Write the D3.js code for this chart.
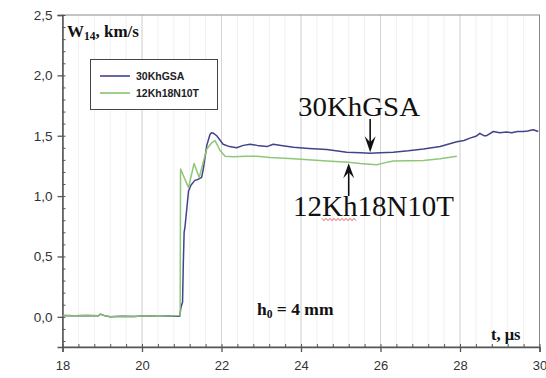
<!DOCTYPE html>
<html>
<head>
<meta charset="utf-8">
<script src="https://cdn.jsdelivr.net/npm/d3@7/dist/d3.min.js"></script>
<style>
  html, body { margin: 0; padding: 0; background: #fff; }
  svg { display: block; }
</style>
</head>
<body>
<svg id="chart" width="546" height="378"></svg>
<script>
// Free-surface velocity W14 vs. time for two steels, h0 = 4 mm
const tGSA = [18.0, 18.3, 18.6, 18.9, 18.96, 19.05, 19.2, 19.5, 19.8, 20.1, 20.4, 20.7, 20.95,
  20.98, 21.02, 21.04, 21.06, 21.08, 21.17, 21.23, 21.33, 21.42, 21.50, 21.54, 21.63, 21.71,
  21.75, 21.80, 21.88, 22.04, 22.2, 22.38, 22.55, 22.72, 22.9, 23.14, 23.3, 23.5, 23.81, 24.2,
  24.65, 25.15, 25.5, 25.74, 26.0, 26.32, 26.7, 27.08, 27.5, 27.92, 28.1, 28.25, 28.4, 28.5,
  28.6, 28.67, 28.84, 29.0, 29.17, 29.3, 29.45, 29.59, 29.7, 29.84, 29.97];
const vGSA = [0.01, 0.008, 0.01, 0.008, 0.022, 0.01, 0.0, 0.005, 0.002, 0.008, 0.005, 0.006, 0.005,
  0.08, 0.12, 0.45, 0.70, 0.74, 1.04, 1.09, 1.13, 1.14, 1.155, 1.22, 1.42, 1.51,
  1.525, 1.52, 1.50, 1.43, 1.41, 1.40, 1.42, 1.43, 1.42, 1.41, 1.43, 1.42, 1.405, 1.395,
  1.386, 1.364, 1.358, 1.355, 1.36, 1.364, 1.375, 1.39, 1.41, 1.45, 1.46, 1.48, 1.495, 1.52,
  1.50, 1.50, 1.535, 1.525, 1.53, 1.525, 1.535, 1.535, 1.54, 1.55, 1.535];

const tN10T = [18.0, 18.3, 18.6, 18.9, 18.96, 19.05, 19.2, 19.5, 19.8, 20.1, 20.4, 20.7, 20.96,
  20.97, 21.17, 21.31, 21.44, 21.63, 21.75, 21.84, 21.96, 22.09, 22.3, 22.6, 22.89, 23.22,
  23.81, 24.65, 25.2, 25.48, 25.9, 26.1, 26.32, 27.08, 27.5, 27.92];
const vN10T = [0.01, 0.008, 0.01, 0.008, 0.022, 0.01, 0.0, 0.005, 0.002, 0.008, 0.005, 0.006, 0.01,
  1.225, 1.07, 1.27, 1.155, 1.39, 1.44, 1.46, 1.38, 1.33, 1.325, 1.33, 1.33, 1.32,
  1.31, 1.29, 1.28, 1.27, 1.26, 1.275, 1.29, 1.295, 1.31, 1.33];

const xTicks = [18, 20, 22, 24, 26, 28, 30];
const yTicks = [0, 0.5, 1.0, 1.5, 2.0, 2.5];
const seriesNames = ["30KhGSA", "12Kh18N10T"];
const seriesColors = ["#43438c", "#88c472"];

const svg = d3.select("#chart");
const padL = 62.5, padR = 539.5, padT = 15, padB = 347;

const x = d3.scaleLinear().domain([18, 30]).range([padL, padR]);
const y = d3.scaleLinear().domain([-0.25, 2.5]).range([padB, padT]);

// vertical grid: faint minor lines every 0.4 µs, stronger at major ticks
const minorX = d3.range(18, 30.001, 0.4).map(v => +v.toFixed(2));
svg.append("g").selectAll("line").data(minorX).join("line")
  .attr("x1", d => x(d)).attr("x2", d => x(d))
  .attr("y1", padT).attr("y2", padB)
  .attr("stroke", "#f0f0f0").attr("stroke-width", 1);
svg.append("g").selectAll("line").data(xTicks.slice(1, -1)).join("line")
  .attr("x1", d => x(d)).attr("x2", d => x(d))
  .attr("y1", padT).attr("y2", padB)
  .attr("stroke", "#d4d4d4").attr("stroke-width", 1);

// frame
svg.append("rect").attr("x", padL).attr("y", padT)
  .attr("width", padR - padL).attr("height", padB - padT)
  .attr("fill", "none").attr("stroke", "#8a8a8a").attr("stroke-width", 1);

const fmt = d => d3.format(".1f")(d).replace(".", ",");
const sans = "Arial, 'Liberation Sans', sans-serif";

// x axis
const xAxis = svg.append("g").attr("transform", `translate(0,${padB})`)
  .call(d3.axisBottom(x).tickValues(xTicks).tickFormat(d => d).tickSize(5).tickPadding(9));
xAxis.select(".domain").attr("stroke", "#555").attr("stroke-width", 1.5);
xAxis.selectAll(".tick line").attr("stroke", "#555").attr("stroke-width", 1.3);
xAxis.selectAll("text").attr("font-family", sans).attr("font-size", 13).attr("fill", "#333");
svg.append("g").attr("transform", `translate(0,${padB})`)
  .call(d3.axisTop(x).tickValues(minorX).tickFormat("").tickSize(3))
  .call(g => g.select(".domain").remove())
  .selectAll("line").attr("stroke", "#555");

// y axis
const minorY = d3.range(-0.2, 2.5001, 0.1).map(v => +v.toFixed(2));
const yAxis = svg.append("g").attr("transform", `translate(${padL},0)`)
  .call(d3.axisLeft(y).tickValues(yTicks).tickFormat(fmt).tickSize(5).tickPadding(5));
yAxis.select(".domain").attr("stroke", "#555").attr("stroke-width", 1.5);
yAxis.selectAll(".tick line").attr("stroke", "#555").attr("stroke-width", 1.3);
yAxis.selectAll("text").attr("font-family", sans).attr("font-size", 13.5).attr("fill", "#333");
svg.append("g").attr("transform", `translate(${padL},0)`)
  .call(d3.axisRight(y).tickValues(minorY).tickFormat("").tickSize(3))
  .call(g => g.select(".domain").remove())
  .selectAll("line").attr("stroke", "#555");

// curves
const line = d3.line().x(d => x(d[0])).y(d => y(d[1]));
const gsa = tGSA.map((t, i) => [t, vGSA[i]]);
const n10t = tN10T.map((t, i) => [t, vN10T[i]]);
svg.append("path").datum(gsa).attr("d", line)
  .attr("fill", "none").attr("stroke", seriesColors[0]).attr("stroke-width", 1.5)
  .attr("stroke-linejoin", "round");
svg.append("path").datum(n10t).attr("d", line)
  .attr("fill", "none").attr("stroke", seriesColors[1]).attr("stroke-width", 1.5)
  .attr("stroke-linejoin", "round").attr("opacity", 0.95);

// legend
const lg = svg.append("g");
lg.append("rect").attr("x", 90.5).attr("y", 59.5).attr("width", 127).attr("height", 50)
  .attr("fill", "#fff").attr("stroke", "#444").attr("stroke-width", 1);
seriesNames.forEach((name, i) => {
  const yy = 76 + i * 17;
  lg.append("line").attr("x1", 100).attr("x2", 130).attr("y1", yy).attr("y2", yy)
    .attr("stroke", seriesColors[i]).attr("stroke-width", 1.6);
  lg.append("text").attr("x", 136).attr("y", yy + 4).text(name)
    .attr("font-family", sans).attr("font-size", 10.5)
    .attr("font-weight", "bold").attr("fill", "#222");
});

// axis titles
const serif = "'Times New Roman', 'Liberation Serif', serif";
const title = svg.append("text").attr("x", 67).attr("y", 37)
  .attr("font-family", serif).attr("font-weight", "bold").attr("font-size", 17).attr("fill", "#111");
title.append("tspan").text("W");
title.append("tspan").text("14").attr("font-size", 11.5).attr("dy", 3);
title.append("tspan").text(", km/s").attr("dy", -3);

svg.append("text").attr("x", 491).attr("y", 340).text("t, \u03bcs")
  .attr("font-family", serif).attr("font-weight", "bold").attr("font-size", 16.5).attr("fill", "#111");

const h0 = svg.append("text").attr("x", 257).attr("y", 315)
  .attr("font-family", serif).attr("font-weight", "bold").attr("font-size", 17.5).attr("fill", "#111");
h0.append("tspan").text("h");
h0.append("tspan").text("0").attr("font-size", 11.5).attr("dy", 3);
h0.append("tspan").text(" = 4 mm").attr("dy", -3);

// series annotations with arrows
svg.append("text").attr("x", 298).attr("y", 116).text(seriesNames[0])
  .attr("font-family", serif).attr("font-size", 27).attr("fill", "#111")
  .attr("textLength", 122).attr("lengthAdjust", "spacingAndGlyphs");
svg.append("text").attr("x", 293).attr("y", 216).text(seriesNames[1])
  .attr("font-family", serif).attr("font-size", 30).attr("fill", "#111")
  .attr("textLength", 161).attr("lengthAdjust", "spacingAndGlyphs");

const ax1 = x(25.74), ax2 = x(25.2);
svg.append("line").attr("x1", ax1).attr("x2", ax1).attr("y1", 119).attr("y2", 145)
  .attr("stroke", "#111").attr("stroke-width", 1.6);
svg.append("path")
  .attr("d", `M${ax1},${y(1.355) - 1} L${ax1 - 5.5},${y(1.355) - 17} L${ax1},${y(1.355) - 11} L${ax1 + 5.5},${y(1.355) - 17} Z`)
  .attr("fill", "#111");
svg.append("line").attr("x1", ax2).attr("x2", ax2).attr("y1", 170).attr("y2", 196)
  .attr("stroke", "#111").attr("stroke-width", 1.6);
svg.append("path")
  .attr("d", `M${ax2},${y(1.28) + 1} L${ax2 - 5.5},${y(1.28) + 16} L${ax2},${y(1.28) + 10} L${ax2 + 5.5},${y(1.28) + 16} Z`)
  .attr("fill", "#111");

// red wavy underline under the second label
const wave = d3.range(0, 18).map(i => [322 + i * 2, 219.5 + (i % 2 ? 1.2 : -1.2)]);
svg.append("path").attr("d", d3.line()(wave))
  .attr("fill", "none").attr("stroke", "#e04040").attr("stroke-width", 0.8);
</script>
</body>
</html>
